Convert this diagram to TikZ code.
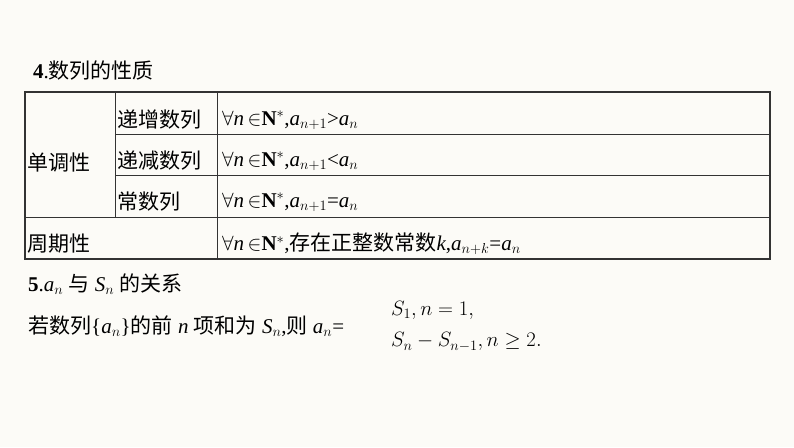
\documentclass[tikz,border=0pt]{standalone}
\usepackage{fontspec}
\setmainfont{Liberation Serif}
\newfontfamily\cjk{Noto Sans CJK SC}
\newcommand{\mi}[1]{\textit{#1}}
\begin{document}
\begin{tikzpicture}[x=1pt,y=-1pt,
  txt/.style={anchor=west,inner sep=0pt,font=\fontsize{21}{23}\selectfont},
  grid/.style={line width=1pt,color=black!80}]
\fill[fill={rgb,255:red,252;green,251;blue,247}] (0,0) rectangle (794,447);
\useasboundingbox (0,0) rectangle (794,447);
\node[txt] (t4) at (33,71) {\textbf{4}.{\cjk 数列的性质}};
\draw[grid,line width=1.4pt] (25,92) rectangle (770,259);
\draw[grid] (115,92) -- (115,217);
\draw[grid] (217,92) -- (217,259);
\draw[grid] (115,134) -- (770,134);
\draw[grid] (115,175) -- (770,175);
\draw[grid] (25,217) -- (770,217);
\node[txt] (c1) at (27,163) {\cjk 单调性};
\node[txt] (c2) at (27,244) {\cjk 周期性};
\node[txt] (r1) at (117,120) {\cjk 递增数列};
\node[txt] (r2) at (117,161) {\cjk 递减数列};
\node[txt] (r3) at (117,202) {\cjk 常数列};
\node[txt] (f1) at (222,120) {$\forall$\mi{n}\,$\in$\textbf{N}$^{*}$,\mi{a}$_{n+1}$>\mi{a}$_n$};
\node[txt] (f2) at (222,161) {$\forall$\mi{n}\,$\in$\textbf{N}$^{*}$,\mi{a}$_{n+1}$<\mi{a}$_n$};
\node[txt] (f3) at (222,202) {$\forall$\mi{n}\,$\in$\textbf{N}$^{*}$,\mi{a}$_{n+1}$=\mi{a}$_n$};
\node[txt] (f4) at (222,244) {$\forall$\mi{n}\,$\in$\textbf{N}$^{*}$,{\cjk 存在正整数常数}\mi{k},\mi{a}$_{n+k}$=\mi{a}$_n$};
\node[txt] (t5) at (28,284) {\textbf{5}.\mi{a}$_n$ {\cjk 与} \mi{S}$_n$ {\cjk 的关系}};
\node[txt] (s) at (28,326) {{\cjk 若数列}\{\mi{a}$_n$\}{\cjk 的前} \mi{n} {\cjk 项和为} \mi{S}$_n$,{\cjk 则} \mi{a}$_n$=};
\node[txt] (e1) at (391,310) {$S_1, n = 1,$};
\node[txt] (e2) at (391,342) {$S_n - S_{n-1}, n \geq 2.$};
\end{tikzpicture}
\end{document}
